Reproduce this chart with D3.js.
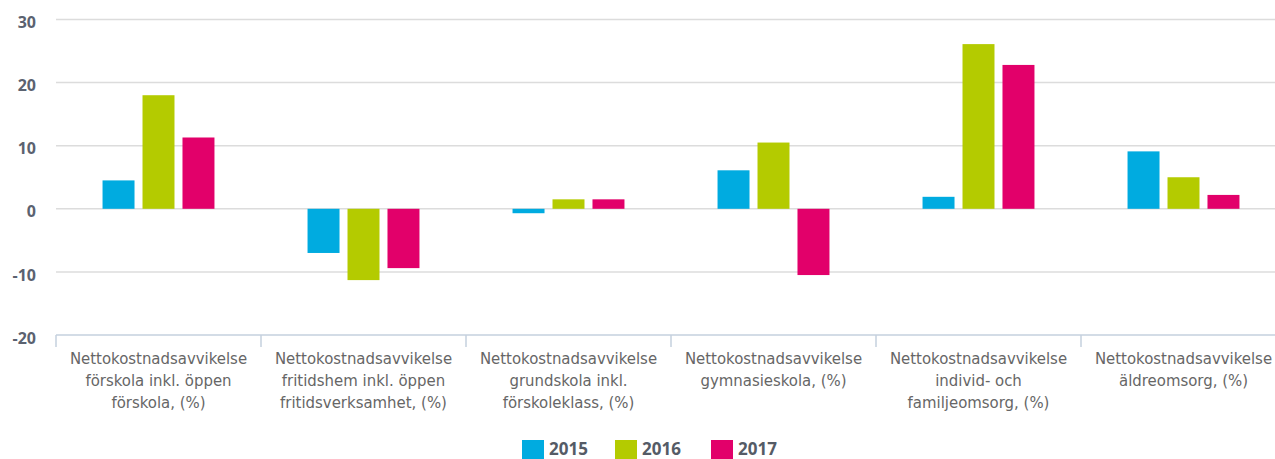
<!DOCTYPE html>
<meta charset="utf-8">
<style>
html, body { margin: 0; padding: 0; background: #fff; }
svg { display: block; }
.grid line { stroke: #dcdcdc; stroke-width: 1.5px; }
.ylab { font: bold 16px "Open Sans", sans-serif; fill: #5b6270; }
.xlab { font: 16.6px "DejaVu Sans Condensed", "DejaVu Sans", sans-serif; fill: #666; }
.legend text { font: bold 17px "Open Sans", sans-serif; fill: #555b66; }
</style>
<body><svg width="1275" height="459"></svg></body>
<script src="https://d3js.org/d3.v7.min.js"></script>
<script>

var categories = [
  ["Nettokostnadsavvikelse", "förskola inkl. öppen", "förskola, (%)"],
  ["Nettokostnadsavvikelse", "fritidshem inkl. öppen", "fritidsverksamhet, (%)"],
  ["Nettokostnadsavvikelse", "grundskola inkl.", "förskoleklass, (%)"],
  ["Nettokostnadsavvikelse", "gymnasieskola, (%)"],
  ["Nettokostnadsavvikelse", "individ- och", "familjeomsorg, (%)"],
  ["Nettokostnadsavvikelse", "äldreomsorg, (%)"]
];
var years = ["2015", "2016", "2017"];
var v2015 = [4.5, -7.0, -0.7, 6.1, 1.9, 9.1];
var v2016 = [18.0, -11.3, 1.5, 10.5, 26.1, 5.0];
var v2017 = [11.3, -9.4, 1.5, -10.5, 22.8, 2.2];
var yTicks = [-20, -10, 0, 10, 20, 30];
var colors = ["#00abe0", "#b4cb00", "#e2006a"];

var series = [v2015, v2016, v2017];

var svg = d3.select("svg");

var x0 = d3.scaleBand()
    .domain(d3.range(categories.length))
    .range([56, 1286])
    .paddingInner(0.415)
    .paddingOuter(0.2075);

var x1 = d3.scaleBand()
    .domain(d3.range(years.length))
    .range([0, x0.bandwidth()])
    .paddingInner(0.2)
    .paddingOuter(0.1);

var y = d3.scaleLinear()
    .domain([-20, 30])
    .range([335, 19.5]);

// grid
svg.append("g")
    .attr("class", "grid")
  .selectAll("line")
  .data(yTicks.filter(function(d) { return d > -20; }))
  .enter().append("line")
    .attr("x1", 56)
    .attr("x2", 1275)
    .attr("y1", function(d) { return y(d); })
    .attr("y2", function(d) { return y(d); });

// y labels
svg.append("g")
  .selectAll("text")
  .data(yTicks)
  .enter().append("text")
    .attr("class", "ylab")
    .attr("x", 36)
    .attr("y", function(d) { return y(d) + 3; })
    .attr("dy", "0.35em")
    .attr("text-anchor", "end")
    .text(function(d) { return d; });

// bars
var groups = svg.append("g")
  .selectAll("g")
  .data(categories)
  .enter().append("g")
    .attr("transform", function(d, i) { return "translate(" + x0(i) + ",0)"; });

groups.selectAll("rect")
  .data(function(d, i) { return series.map(function(s, k) { return {k: k, v: s[i]}; }); })
  .enter().append("rect")
    .attr("x", function(d) { return x1(d.k); })
    .attr("width", x1.bandwidth())
    .attr("y", function(d) { return y(Math.max(0, d.v)); })
    .attr("height", function(d) { return Math.abs(y(d.v) - y(0)); })
    .attr("fill", function(d) { return colors[d.k]; });

// x axis
var step = x0.step();
var axis = svg.append("g");
axis.append("line")
    .attr("x1", 56).attr("x2", 1275)
    .attr("y1", y(-20)).attr("y2", y(-20))
    .attr("stroke", "#c4d0de").attr("stroke-width", 1.5);
axis.selectAll(".tick")
  .data(d3.range(categories.length + 1))
  .enter().append("line")
    .attr("x1", function(i) { return 56 + i * step; })
    .attr("x2", function(i) { return 56 + i * step; })
    .attr("y1", y(-20))
    .attr("y2", y(-20) + 12)
    .attr("stroke", "#c4d0de").attr("stroke-width", 1.5);

svg.append("g")
  .selectAll("text")
  .data(categories)
  .enter().append("text")
    .attr("class", "xlab")
    .attr("text-anchor", "middle")
    .attr("transform", function(d, i) { return "translate(" + (x0(i) + x0.bandwidth() / 2) + ",364)"; })
  .selectAll("tspan")
  .data(function(d) { return d; })
  .enter().append("tspan")
    .attr("x", 0)
    .attr("y", function(d, j) { return j * 22; })
    .text(function(d) { return d; });

// legend
var legendX = [522, 615, 711];
var legend = svg.append("g").attr("class", "legend")
  .selectAll("g")
  .data(years)
  .enter().append("g")
    .attr("transform", function(d, i) { return "translate(" + legendX[i] + ",440)"; });
legend.append("rect")
    .attr("width", 22).attr("height", 19)
    .attr("fill", function(d, i) { return colors[i]; });
legend.append("text")
    .attr("x", 27).attr("y", 15)
    .text(function(d) { return d; });

</script>
